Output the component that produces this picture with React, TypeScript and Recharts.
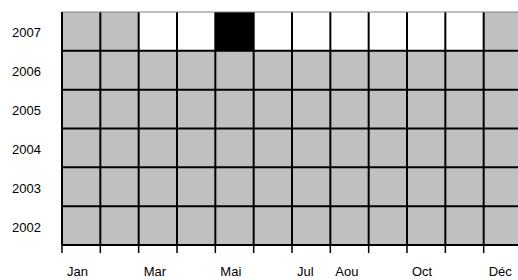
import React from 'react';
import { BarChart, Bar, Cell, XAxis, YAxis, ReferenceLine } from 'recharts';

const months = ['Jan', 'Fév', 'Mar', 'Avr', 'Mai', 'Jun', 'Jul', 'Aou', 'Sep', 'Oct', 'Nov', 'Déc'];
const monthLabels = ['Jan', '', 'Mar', '', 'Mai', '', 'Jul', 'Aou', '', 'Oct', '', 'Déc'];
const years = ['2002', '2003', '2004', '2005', '2006', '2007'];

// G = gray, W = white, B = black
const status2002 = ['G', 'G', 'G', 'G', 'G', 'G', 'G', 'G', 'G', 'G', 'G', 'G'];
const status2003 = ['G', 'G', 'G', 'G', 'G', 'G', 'G', 'G', 'G', 'G', 'G', 'G'];
const status2004 = ['G', 'G', 'G', 'G', 'G', 'G', 'G', 'G', 'G', 'G', 'G', 'G'];
const status2005 = ['G', 'G', 'G', 'G', 'G', 'G', 'G', 'G', 'G', 'G', 'G', 'G'];
const status2006 = ['G', 'G', 'G', 'G', 'G', 'G', 'G', 'G', 'G', 'G', 'G', 'G'];
const status2007 = ['G', 'G', 'W', 'W', 'B', 'W', 'W', 'W', 'W', 'W', 'W', 'G'];
const statusByYear = [status2002, status2003, status2004, status2005, status2006, status2007];

const COLORS: Record<string, string> = { G: '#c0c0c0', W: '#ffffff', B: '#000000' };
const FONT = '"Liberation Sans", Arial, sans-serif';

const CHART_W = 510;
const MARGIN = { top: 4, right: -4, left: 0, bottom: 0 };
const Y_AXIS_W = 54;

const data = months.map((m) => {
  const row: Record<string, any> = { month: m };
  years.forEach((y) => {
    row[y] = 1;
  });
  return row;
});

const innerX = months.slice(1);
const innerY = years.slice(1).map((_, i) => i + 1);
const yTicks = years.map((_, i) => i + 0.5);

const MonthTick = (props: any) => {
  const { x, y, index, payload } = props;
  const half =
    payload && typeof payload.offset === 'number' && payload.offset > 0
      ? payload.offset
      : (CHART_W - MARGIN.left - MARGIN.right - Y_AXIS_W) / months.length / 2;
  const b = x - half;
  const label = monthLabels[index] || '';
  return (
    <g>
      <line x1={b} x2={b} y1={y - 22} y2={y - 14} stroke="#000" strokeWidth={1.5} />
      <text x={b + 5} y={y} dy={9.3} textAnchor="start" fontSize={13} fontFamily={FONT} fill="#000">
        {label}
      </text>
    </g>
  );
};

const YearTick = (props: any) => {
  const { x, y, index } = props;
  return (
    <text x={x} y={y} dy={6} textAnchor="end" fontSize={13} fontFamily={FONT} fill="#000">
      {years[index]}
    </text>
  );
};

export default function App() {
  return (
    <div style={{ width: CHART_W, height: 272 }}>
      <style>{'html,body{overflow:hidden;} body{width:510px;min-width:510px;}'}</style>
      <BarChart
        width={CHART_W}
        height={272}
        data={data}
        margin={MARGIN}
        barCategoryGap={0}
        barGap={0}
      >
        <XAxis
          dataKey="month"
          interval={0}
          height={35}
          tickSize={0}
          tickMargin={22}
          tickLine={false}
          axisLine={{ stroke: '#000', strokeWidth: 2 }}
          tick={<MonthTick />}
        />
        <YAxis
          type="number"
          domain={[0, years.length]}
          allowDataOverflow
          ticks={yTicks}
          interval={0}
          width={Y_AXIS_W}
          tickSize={0}
          tickMargin={21}
          tickLine={false}
          axisLine={{ stroke: '#000', strokeWidth: 2 }}
          tick={<YearTick />}
        />
        {years.map((y, yi) => (
          <Bar key={y} dataKey={y} stackId="s" isAnimationActive={false}>
            {months.map((m, mi) => (
              <Cell key={m} fill={COLORS[statusByYear[yi][mi]]} stroke="none" />
            ))}
          </Bar>
        ))}
        {innerX.map((m) => (
          <ReferenceLine key={'x' + m} x={m} position="start" stroke="#000" strokeWidth={2} />
        ))}
        {innerY.map((v) => (
          <ReferenceLine key={'y' + v} y={v} stroke="#000" strokeWidth={2} />
        ))}
        <ReferenceLine y={years.length} stroke="#808080" strokeWidth={1} />
      </BarChart>
    </div>
  );
}
